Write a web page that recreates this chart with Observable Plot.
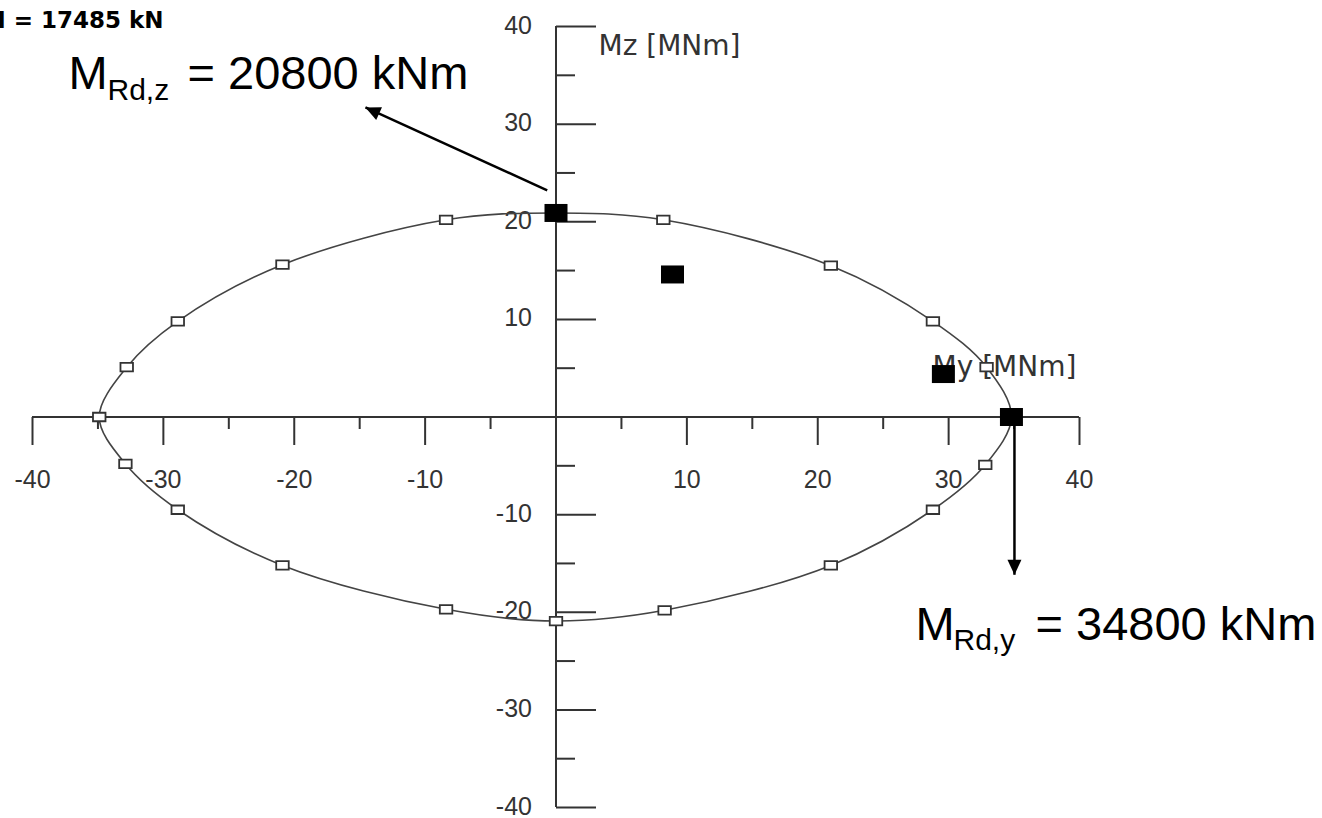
<!DOCTYPE html>
<html>
<head>
<meta charset="utf-8">
<script src="https://cdn.jsdelivr.net/npm/d3@7"></script>
<script src="https://cdn.jsdelivr.net/npm/@observablehq/plot@0.6"></script>
<style>
  html, body { margin: 0; padding: 0; background: #fff; }
  #chart svg { display: block; }
</style>
</head>
<body>
<div id="chart"></div>
<script>
// ---- Data ----
// Interaction curve points (My, Mz) in MNm
const curveMy = [34.8, 32.9, 28.8, 21.0, 8.2, 0, -8.4, -20.9, -28.9, -32.8, -34.9, -32.9, -28.9, -20.9, -8.4, 0, 8.3, 21.0, 28.8, 32.8];
const curveMz = [0, 5.1, 9.8, 15.5, 20.2, 20.9, 20.2, 15.6, 9.8, 5.1, 0, -4.8, -9.5, -15.2, -19.7, -20.9, -19.8, -15.2, -9.5, -4.9];
// Highlighted (filled) points
const designMy = [0, 8.9, 29.6, 34.8];
const designMz = [20.9, 14.6, 4.4, 0];
// Axis ticks
const xMajorTicks = [-40, -30, -20, -10, 10, 20, 30, 40];
const xMinorTicks = [-35, -25, -15, -5, 5, 15, 25, 35];
const yMajorTicks = [-40, -30, -20, -10, 10, 20, 30, 40];
const yMinorTicks = [-35, -25, -15, -5, 5, 15, 25, 35];
const xTickLabels = ["-40", "-30", "-20", "-10", "10", "20", "30", "40"];
const yTickLabels = ["-40", "-30", "-20", "-10", "10", "20", "30", "40"];
// Annotation arrows (tail -> tip)
const arrowX1 = [-0.67, 35.03];
const arrowY1 = [23.22, -0.82];
const arrowX2 = [-14.56, 35.03];
const arrowY2 = [31.71, -16.16];

// ---- Build tables ----
const curve = curveMy.map((v, i) => ({x: v, y: curveMz[i]}));
const design = designMy.map((v, i) => ({x: v, y: designMz[i]}));
const xLab = xMajorTicks.map((v, i) => ({x: v, label: xTickLabels[i]}));
const yLab = yMajorTicks.map((v, i) => ({y: v, label: yTickLabels[i]}));
const arrows = arrowX1.map((v, i) => ({x1: v, y1: arrowY1[i], x2: arrowX2[i], y2: arrowY2[i]}));

const xRange = [32, 1079], yRange = [807, 26];
const kx = (xRange[1] - xRange[0]) / 80, ky = (yRange[0] - yRange[1]) / 80;

function rectSymbol(w, h) {
  return {draw(ctx) {
    ctx.moveTo(-w / 2, -h / 2); ctx.lineTo(w / 2, -h / 2);
    ctx.lineTo(w / 2, h / 2); ctx.lineTo(-w / 2, h / 2); ctx.closePath();
  }};
}
function segSymbol(x1, y1, x2, y2) {
  return {draw(ctx) { ctx.moveTo(x1, y1); ctx.lineTo(x2, y2); }};
}
function headSymbol(a, L, W) {
  // tip at origin, pointing along pixel direction a
  const len = Math.hypot(a[0], a[1]);
  const ux = a[0] / len, uy = a[1] / len;
  const bx = -L * ux, by = -L * uy;
  return {draw(ctx) {
    ctx.moveTo(0, 0);
    ctx.lineTo(bx - uy * W / 2, by + ux * W / 2);
    ctx.lineTo(bx + uy * W / 2, by - ux * W / 2);
    ctx.closePath();
  }};
}

const axisColor = "#333";
const tickFont = "Liberation Sans, Arial, sans-serif";
const titleFont = "DejaVu Sans, Verdana, sans-serif";
const bigFont = "Liberation Sans, Arial, sans-serif";

const headMarks = arrows.map(d =>
  Plot.dot([d], {
    x: "x2", y: "y2",
    symbol: headSymbol([(d.x2 - d.x1) * kx, -(d.y2 - d.y1) * ky], 15, 14),
    fill: "black", stroke: "none"
  })
);

function label(str, dx, dy, size, opts = {}) {
  return Plot.text([str], {
    text: d => d, frameAnchor: "top-left", dx, dy,
    textAnchor: "start", lineAnchor: "middle",
    fontSize: size, fontFamily: bigFont, fill: "black", ...opts
  });
}

const chart = Plot.plot({
  width: 1322,
  height: 818,
  margin: 0,
  style: {background: "white"},
  x: {domain: [-40, 40], range: xRange, axis: null},
  y: {domain: [-40, 40], range: yRange, axis: null},
  marks: [
    // axes lines
    Plot.ruleY([0], {x1: -40, x2: 40, stroke: axisColor, strokeWidth: 2}),
    Plot.ruleX([0], {y1: -40, y2: 40, stroke: axisColor, strokeWidth: 2}),
    // x ticks
    Plot.dot(xMajorTicks, {x: d => d, y: 0, symbol: segSymbol(0, 0, 0, 28), fill: "none", stroke: axisColor, strokeWidth: 2}),
    Plot.dot(xMinorTicks, {x: d => d, y: 0, symbol: segSymbol(0, 0, 0, 12), fill: "none", stroke: axisColor, strokeWidth: 2}),
    // y ticks
    Plot.dot(yMajorTicks, {x: 0, y: d => d, symbol: segSymbol(0, 0, 40, 0), fill: "none", stroke: axisColor, strokeWidth: 2}),
    Plot.dot(yMinorTicks, {x: 0, y: d => d, symbol: segSymbol(0, 0, 19, 0), fill: "none", stroke: axisColor, strokeWidth: 2}),
    // tick labels
    Plot.text(xLab, {x: "x", y: 0, text: "label", dy: 63, fontSize: 25, fontFamily: tickFont, fill: axisColor, lineAnchor: "middle"}),
    Plot.text(yLab, {x: 0, y: "y", text: "label", dx: -24, dy: -1, textAnchor: "end", fontSize: 25, fontFamily: tickFont, fill: axisColor, lineAnchor: "middle"}),
    // axis titles
    label("Mz [MNm]", 598, 46, 28, {fontFamily: titleFont, fill: axisColor}),
    label("My [MNm]", 932, 367, 28, {fontFamily: titleFont, fill: axisColor}),
    // interaction curve
    Plot.line(curve, {x: "x", y: "y", curve: "catmull-rom-closed", stroke: "#444", strokeWidth: 1.6}),
    Plot.dot(curve, {x: "x", y: "y", symbol: rectSymbol(12.5, 8.5), fill: "white", stroke: axisColor, strokeWidth: 1.8}),
    // design points
    Plot.dot(design, {x: "x", y: "y", symbol: rectSymbol(23, 18), fill: "black", stroke: "none"}),
    // arrows
    Plot.link(arrows, {x1: "x1", y1: "y1", x2: "x2", y2: "y2", stroke: "black", strokeWidth: 2.5}),
    ...headMarks,
    // header
    label("N = 17485 kN", 163, 20.5, 23, {textAnchor: "end", fontFamily: titleFont, fontWeight: "bold"}),
    // big annotations
    label("M", 68, 73, 47),
    label("Rd,z", 107, 89.4, 30),
    label("= 20800 kNm", 187, 73, 47),
    label("M", 915, 624, 47),
    label("Rd,y", 953, 639.4, 30),
    label("= 34800 kNm", 1035, 624, 47)
  ]
});
document.getElementById("chart").appendChild(chart);
</script>
</body>
</html>
